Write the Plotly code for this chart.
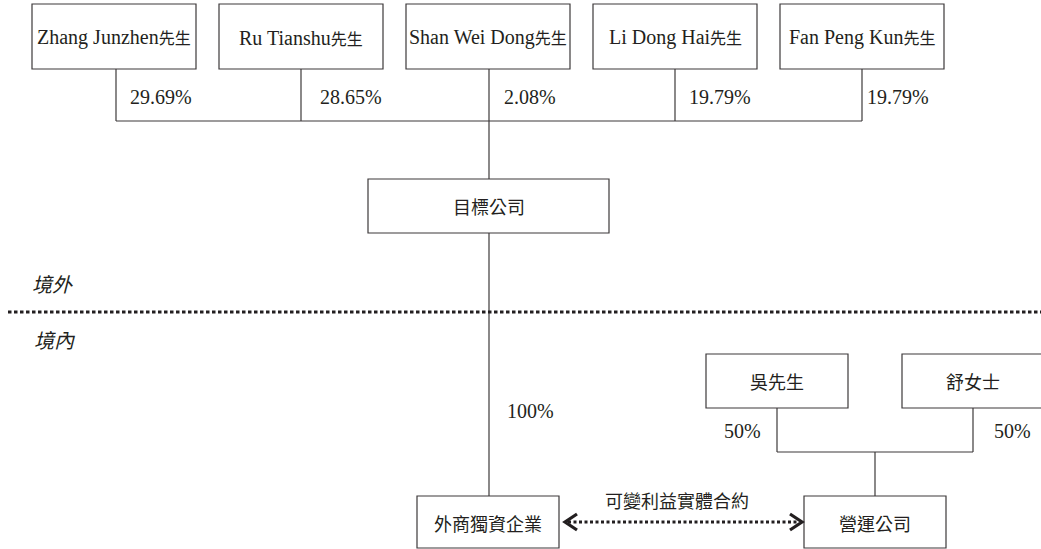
import plotly.graph_objects as go

# ---------------- data ----------------
shareholders = ["Zhang Junzhen", "Ru Tianshu", "Shan Wei Dong", "Li Dong Hai", "Fan Peng Kun"]
honorific = "先生"
shareholder_stakes = [29.69, 28.65, 2.08, 19.79, 19.79]

target_company = "目標公司"
wfoe = "外商獨資企業"
wfoe_stake = 100
opco = "營運公司"
domestic_holders = ["吳先生", "舒女士"]
domestic_stakes = [50, 50]
contract_label = "可變利益實體合約"
offshore_label = "境外"
onshore_label = "境內"

# ---------------- layout (pixel positions) ----------------
W, H = 1041, 549
LINE = "#3d393a"
TXT = "#231f20"
LAT = "Liberation Serif, 'Noto Sans CJK TC', serif"
CJK = "'Noto Sans CJK TC', 'Noto Sans CJK SC', sans-serif"

top_box_left = [32, 219, 406, 593, 780]
top_box_w = 164
top_box_y = (4, 69)
top_conn_x = [116, 301, 489, 675, 862]
top_pct_x = [128, 318, 502, 687, 865]
top_bar_y = 121
pct_y = 97

tgt_box = (368, 609, 179, 233)
wfoe_box = (417, 559, 496, 548)
opco_box = (804, 946, 496, 548)
dom_box_left = [706, 902]
dom_box_w = 142
dom_box_y = (354, 408)
dom_conn_x = [777, 973]
dom_pct_x = [742, 1012]
dom_bar_y = 452
divider_y = 312

shapes = []
annotations = []


def rect(x0, x1, y0, y1):
    shapes.append(dict(type="rect", xref="x", yref="y", x0=x0, x1=x1, y0=y0, y1=y1,
                       line=dict(color=LINE, width=1.2), fillcolor="white", layer="above"))


def seg(x0, y0, x1, y1, width=1.2, dash=None, color=LINE):
    ln = dict(color=color, width=width)
    if dash:
        ln["dash"] = dash
    shapes.append(dict(type="line", xref="x", yref="y", x0=x0, y0=y0, x1=x1, y1=y1,
                       line=ln, layer="below"))


def label(x, y, text, size=18, family=CJK, xanchor="center", italic=False):
    annotations.append(dict(x=x, y=y, xref="x", yref="y", text=text, showarrow=False,
                            xanchor=xanchor, yanchor="middle",
                            font=dict(size=size, family=family, color=TXT,
                                      style="italic" if italic else "normal")))


# top shareholders
for left, name, cx, px, stake in zip(top_box_left, shareholders, top_conn_x, top_pct_x, shareholder_stakes):
    rect(left, left + top_box_w, *top_box_y)
    label(left + top_box_w / 2, (top_box_y[0] + top_box_y[1]) / 2 + 1,
          f"{name}<span style='font-size:16px'>{honorific}</span>", size=20, family=LAT)
    seg(cx, top_box_y[1], cx, top_bar_y)
    label(px, pct_y, f"{stake:.2f}%", size=20, family=LAT, xanchor="left")

seg(top_conn_x[0], top_bar_y, top_conn_x[-1], top_bar_y)

# target company
mid_x = (tgt_box[0] + tgt_box[1]) / 2
seg(top_conn_x[2], top_bar_y, top_conn_x[2], tgt_box[2])
rect(*tgt_box)
label(mid_x + 0.5, (tgt_box[2] + tgt_box[3]) / 2, target_company)

# main vertical to WFOE
seg(top_conn_x[2], tgt_box[3], top_conn_x[2], wfoe_box[2])
label(505, 411, f"{wfoe_stake}%", size=20, family=LAT, xanchor="left")

# divider
seg(8, divider_y, W + 5, divider_y, width=3, dash="3.5px,2.5px", color="#231f20")
label(30, 283, offshore_label, size=20, xanchor="left", italic=True)
label(32, 339, onshore_label, size=20, xanchor="left", italic=True)

# WFOE box
rect(*wfoe_box)
label((wfoe_box[0] + wfoe_box[1]) / 2, (wfoe_box[2] + wfoe_box[3]) / 2 + 1, wfoe)

# domestic holders
for left, name, cx, px, stake in zip(dom_box_left, domestic_holders, dom_conn_x, dom_pct_x, domestic_stakes):
    rect(left, left + dom_box_w, *dom_box_y)
    label(left + dom_box_w / 2, (dom_box_y[0] + dom_box_y[1]) / 2, name)
    seg(cx, dom_box_y[1], cx, dom_bar_y)
    label(px, 431, f"{stake}%", size=20, family=LAT)
seg(dom_conn_x[0], dom_bar_y, dom_conn_x[1], dom_bar_y)
opco_cx = (opco_box[0] + opco_box[1]) / 2
seg(opco_cx, dom_bar_y, opco_cx, opco_box[2])

# opco box
rect(*opco_box)
label(opco_cx, (opco_box[2] + opco_box[3]) / 2 + 1, opco)

# contract arrow
ay = 522
seg(wfoe_box[1] + 9, ay, opco_box[0] - 6, ay, width=3, dash="3px,2.5px", color="#231f20")
lx = wfoe_box[1] + 6
rx = opco_box[0] - 2
shapes.append(dict(type="path", xref="x", yref="y",
                   path=f"M {lx + 12},{ay - 8} L {lx},{ay} L {lx + 12},{ay + 8}",
                   line=dict(color="#231f20", width=3.2)))
shapes.append(dict(type="path", xref="x", yref="y",
                   path=f"M {rx - 12},{ay - 8} L {rx},{ay} L {rx - 12},{ay + 8}",
                   line=dict(color="#231f20", width=3.2)))
label(677, 500, contract_label)

fig = go.Figure()
fig.update_layout(
    width=W, height=H,
    margin=dict(l=0, r=0, t=0, b=0),
    paper_bgcolor="white", plot_bgcolor="white",
    xaxis=dict(range=[0, W], visible=False, fixedrange=True),
    yaxis=dict(range=[H, 0], visible=False, fixedrange=True),
    shapes=shapes, annotations=annotations, showlegend=False,
)
fig.write_html(
    "out.html",
    config={"displayModeBar": False},
    post_script="document.body.style.margin='0';document.body.style.overflow='hidden';",
)
